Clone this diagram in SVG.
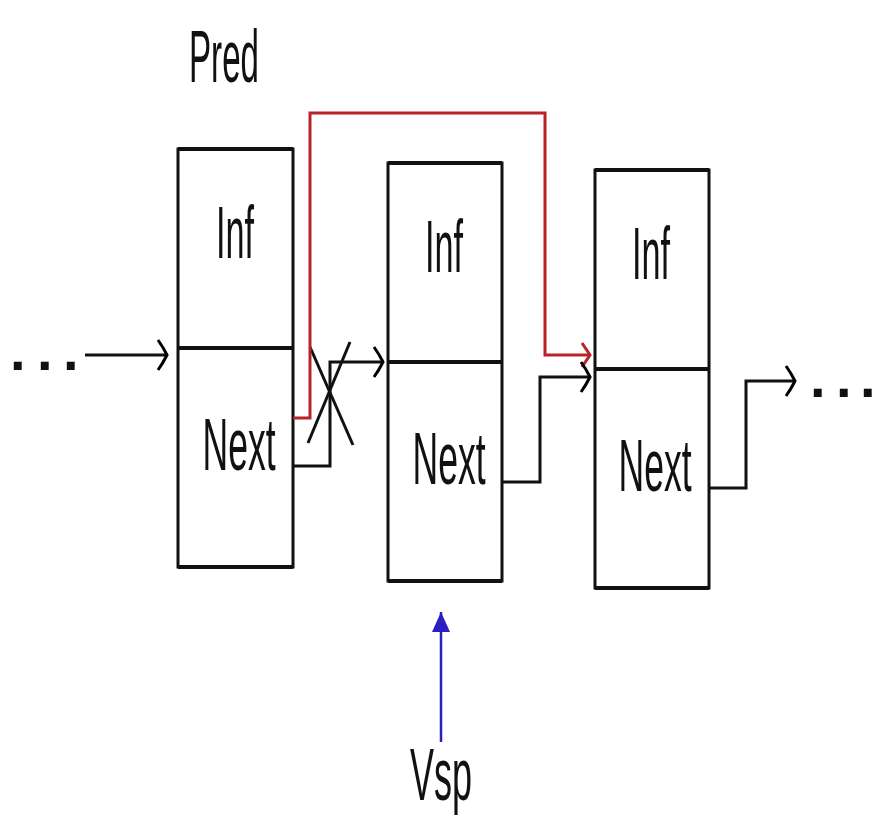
<svg xmlns="http://www.w3.org/2000/svg" width="877" height="816" viewBox="0 0 877 816">
  <defs>
    <marker id="open" markerUnits="userSpaceOnUse" markerWidth="24" markerHeight="40" refX="12" refY="20" orient="auto" overflow="visible">
      <path d="M3,5 Q8,12 12,20 Q8,28 3,35" fill="none" stroke="#000" stroke-width="3"/>
    </marker>
    <marker id="openRed" markerUnits="userSpaceOnUse" markerWidth="24" markerHeight="40" refX="12" refY="20" orient="auto" overflow="visible">
      <path d="M4,8 Q8,14 12,20 Q8,26 4,32" fill="none" stroke="#b8232b" stroke-width="3"/>
    </marker>
    <marker id="blueTri" markerUnits="userSpaceOnUse" markerWidth="24" markerHeight="24" refX="20" refY="10" orient="auto" overflow="visible">
      <path d="M0,1 L20,10 L0,19 Z" fill="#2a1fc0"/>
    </marker>
    <style>
      .lbl { font-family: "Liberation Sans", Arial, sans-serif; font-size: 75px; fill: #111; }
      .dots { font-family: "Liberation Sans", Arial, sans-serif; font-size: 56px; font-weight: bold; fill: #111; }
      .side { stroke: #111; stroke-width: 3; fill: none; }
      .edge { stroke: #111; stroke-width: 4; fill: none; }
      .conn { stroke: #111; stroke-width: 3; fill: none; }
      .red { stroke: #b8232b; stroke-width: 3; fill: none; }
      .blue { stroke: #2a1fc0; stroke-width: 2.5; fill: none; }
    </style>
  </defs>
  <rect width="877" height="816" fill="#fff"/>

  <g id="pred-label">
    <text class="lbl" x="224" y="82" text-anchor="middle" textLength="70" lengthAdjust="spacingAndGlyphs">Pred</text>
  </g>

  <g id="node1">
    <rect x="178" y="149" width="115" height="418" fill="#fff" class="side"/>
    <line class="edge" x1="178" y1="149" x2="293" y2="149"/>
    <line class="edge" x1="178" y1="348" x2="293" y2="348"/>
    <line class="edge" x1="178" y1="567" x2="293" y2="567"/>
    <text class="lbl" x="235" y="258" text-anchor="middle" textLength="38" lengthAdjust="spacingAndGlyphs">Inf</text>
    <text class="lbl" x="239" y="470" text-anchor="middle" textLength="73" lengthAdjust="spacingAndGlyphs">Next</text>
  </g>

  <g id="node2">
    <rect x="388" y="163" width="114" height="418" fill="#fff" class="side"/>
    <line class="edge" x1="388" y1="163" x2="502" y2="163"/>
    <line class="edge" x1="388" y1="362" x2="502" y2="362"/>
    <line class="edge" x1="388" y1="581" x2="502" y2="581"/>
    <text class="lbl" x="444" y="272" text-anchor="middle" textLength="38" lengthAdjust="spacingAndGlyphs">Inf</text>
    <text class="lbl" x="449" y="484" text-anchor="middle" textLength="73" lengthAdjust="spacingAndGlyphs">Next</text>
  </g>

  <g id="node3">
    <rect x="595" y="170" width="114" height="418" fill="#fff" class="side"/>
    <line class="edge" x1="595" y1="170" x2="709" y2="170"/>
    <line class="edge" x1="595" y1="369" x2="709" y2="369"/>
    <line class="edge" x1="595" y1="588" x2="709" y2="588"/>
    <text class="lbl" x="651" y="279" text-anchor="middle" textLength="38" lengthAdjust="spacingAndGlyphs">Inf</text>
    <text class="lbl" x="655" y="491" text-anchor="middle" textLength="73" lengthAdjust="spacingAndGlyphs">Next</text>
  </g>

  <g id="ellipsis-left">
    <text class="dots" x="10 37 63" y="370">...</text>
  </g>
  <g id="ellipsis-right">
    <text class="dots" x="810 836 860" y="397">...</text>
  </g>

  <g id="vsp-label">
    <text class="lbl" x="441" y="800" text-anchor="middle" textLength="62" lengthAdjust="spacingAndGlyphs">Vsp</text>
  </g>

  <g id="connectors">
    <line class="conn" x1="85" y1="355" x2="167" y2="355" marker-end="url(#open)"/>
    <polyline class="conn" points="293,466 330,466 330,362 383,362" marker-end="url(#open)"/>
    <line class="conn" x1="310" y1="347" x2="353" y2="445"/>
    <line class="conn" x1="308" y1="443" x2="350" y2="342"/>
    <polyline class="red" points="293,418 310,418 310,113 545,113 545,355 590,355" marker-end="url(#openRed)"/>
    <polyline class="conn" points="502,482 540,482 540,377 590,377" marker-end="url(#open)"/>
    <polyline class="conn" points="709,488 746,488 746,381 795,381" marker-end="url(#open)"/>
    <line class="blue" x1="441" y1="742" x2="441" y2="612" marker-end="url(#blueTri)"/>
  </g>
</svg>
